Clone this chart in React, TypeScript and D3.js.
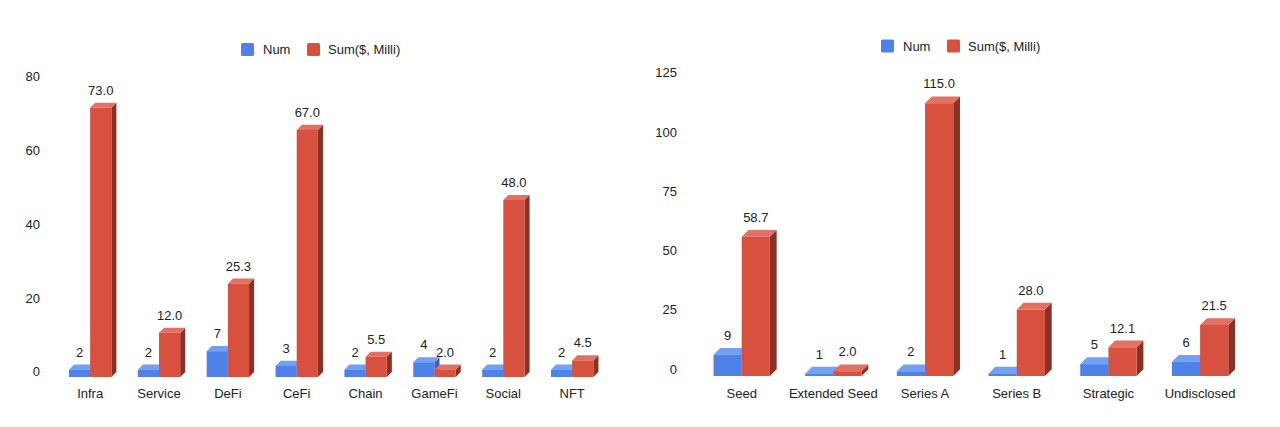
import React from 'react';
import * as d3 from 'd3';

// Left chart: by sector
const sectorCategories = ['Infra', 'Service', 'DeFi', 'CeFi', 'Chain', 'GameFi', 'Social', 'NFT'];
const sectorNum = [2, 2, 7, 3, 2, 4, 2, 2];
const sectorSum = [73.0, 12.0, 25.3, 67.0, 5.5, 2.0, 48.0, 4.5];
const sectorTicks = [0, 20, 40, 60, 80];

// Right chart: by round
const roundCategories = ['Seed', 'Extended Seed', 'Series A', 'Series B', 'Strategic', 'Undisclosed'];
const roundNum = [9, 1, 2, 1, 5, 6];
const roundSum = [58.7, 2.0, 115.0, 28.0, 12.1, 21.5];
const roundTicks = [0, 25, 50, 75, 100, 125];

const seriesNames = ['Num', 'Sum($, Milli)'];

const FONT = '"Liberation Sans", Arial, sans-serif';
const TEXT = '#222';

const BLUE = { front: '#4f82e8', top: '#72a0f2', side: '#3a62b4' };
const RED = { front: '#d8513f', top: '#e27163', side: '#8a3126' };

interface Faces {
  front: string;
  top: string;
  side: string;
}

// one extruded bar: front face, top face and right side face
const Bar3D: React.FC<{ x: number; w: number; y: number; base: number; d: number; c: Faces }> = ({
  x, w, y, base, d, c,
}) => {
  const top = `${x},${y} ${x + w},${y} ${x + w + d},${y - d} ${x + d},${y - d}`;
  const side = `${x + w},${y} ${x + w + d},${y - d} ${x + w + d},${base - d} ${x + w},${base}`;
  return (
    <g>
      <polygon points={side} fill={c.side} />
      <polygon points={top} fill={c.top} />
      <rect x={x} y={y} width={w} height={Math.max(0, base - y)} fill={c.front} />
    </g>
  );
};

interface ChartProps {
  categories: string[];
  num: number[];
  sum: number[];
  ticks: number[];
  xRange: [number, number];
  yRange: [number, number];
  yLabelX: number;
  legendX: number;
  legendY: number;
}

const Chart: React.FC<ChartProps> = ({
  categories, num, sum, ticks, xRange, yRange, yLabelX, legendX, legendY,
}) => {
  const x = d3.scaleBand<string>().domain(categories).range(xRange).paddingInner(0.385).paddingOuter(0.3);
  const y = d3.scaleLinear().domain([0, ticks[ticks.length - 1]]).range(yRange);
  const bw = x.bandwidth() / 2;
  const depth = bw * 0.24;
  const base = y(0);

  return (
    <g fontFamily={FONT} fontSize={13} fill={TEXT}>
      {/* legend */}
      <rect x={legendX} y={legendY - 6.5} width={13} height={13} rx={1.5} fill={BLUE.front} />
      <text x={legendX + 22} y={legendY} dominantBaseline="central">{seriesNames[0]}</text>
      <rect x={legendX + 66} y={legendY - 6.5} width={13} height={13} rx={1.5} fill={RED.front} />
      <text x={legendX + 87} y={legendY} dominantBaseline="central">{seriesNames[1]}</text>

      {/* y tick labels sit on the back wall */}
      {ticks.map((t) => (
        <text key={t} x={yLabelX} y={y(t) - depth} textAnchor="end" dominantBaseline="central">
          {t}
        </text>
      ))}

      {categories.map((c, i) => {
        const x0 = x(c) as number;
        const yb = y(num[i]);
        const yr = y(sum[i]);
        return (
          <g key={c}>
            <Bar3D x={x0} w={bw} y={yb} base={base} d={depth} c={BLUE} />
            <Bar3D x={x0 + bw} w={bw} y={yr} base={base} d={depth} c={RED} />
            <text x={x0 + bw / 2} y={yb - depth - 8} textAnchor="middle">{num[i]}</text>
            <text x={x0 + bw * 1.5} y={yr - depth - 8} textAnchor="middle">{sum[i].toFixed(1)}</text>
            <text x={x0 + bw} y={393} textAnchor="middle" dominantBaseline="central">{c}</text>
          </g>
        );
      })}
    </g>
  );
};

export default function App() {
  return (
    <svg
      width={1280}
      height={427}
      style={{ position: 'absolute', left: 0, top: 0, background: '#fff' }}
    >
      <rect width={1280} height={427} fill="#fff" />
      <Chart
        categories={sectorCategories}
        num={sectorNum}
        sum={sectorSum}
        ticks={sectorTicks}
        xRange={[48.3, 614]}
        yRange={[377, 82]}
        yLabelX={40}
        legendX={241}
        legendY={49.5}
      />
      <Chart
        categories={roundCategories}
        num={roundNum}
        sum={roundSum}
        ticks={roundTicks}
        xRange={[686, 1255.8]}
        yRange={[376, 79.5]}
        yLabelX={677}
        legendX={881}
        legendY={46}
      />
    </svg>
  );
}
